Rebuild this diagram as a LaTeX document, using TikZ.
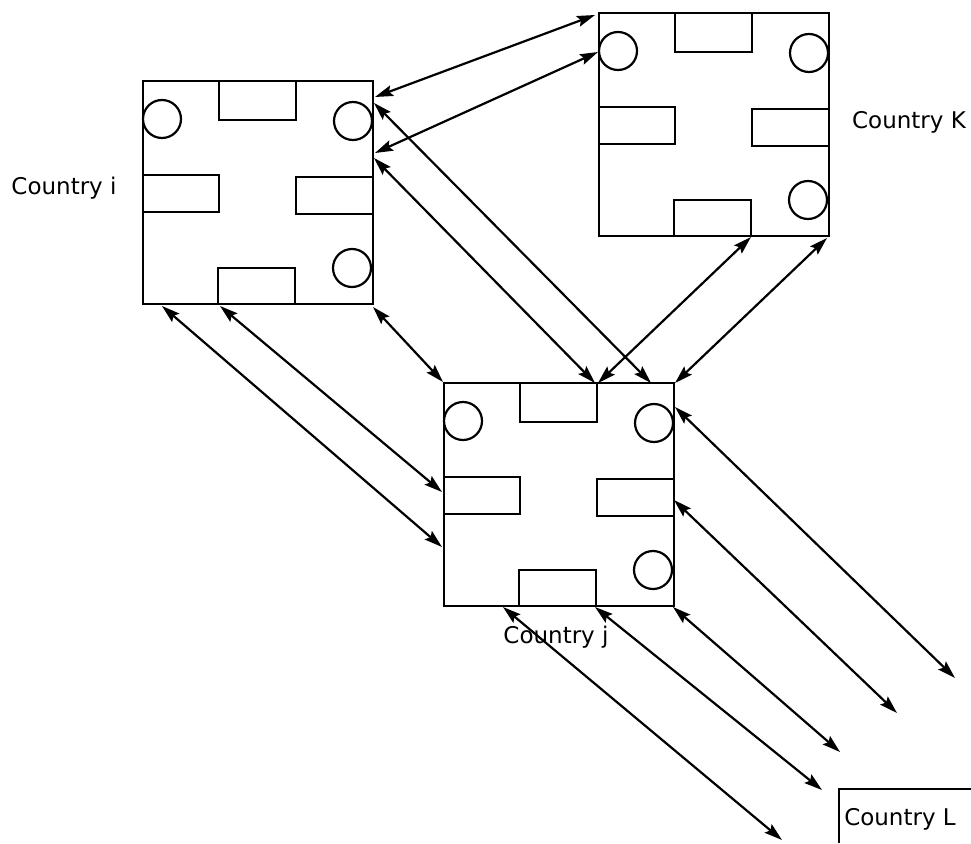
\documentclass[tikz,border=0pt]{standalone}
\usepackage{fontspec}
\setmainfont{DejaVu Sans}
\usetikzlibrary{arrows.meta}

% one country: outer square, four bars, three round stations
\newcommand{\countrybox}[1]{%
	\begin{scope}[shift={#1}]
		\draw (0,0) rectangle (230,223);
		\draw (76,0) rectangle (153,39);
		\draw (0,94) rectangle (76,131);
		\draw (153,96) rectangle (230,133);
		\draw (75,187) rectangle (152,223);
		\draw (19,38) circle (19pt);
		\draw (210,40) circle (19pt);
		\draw (209,187) circle (19pt);
	\end{scope}}

\begin{document}
\begin{tikzpicture}[x=1pt, y=-1pt, line width=2.2pt,
		link/.style={{Stealth[length=18pt,width=11pt,inset=3pt]}-{Stealth[length=18pt,width=11pt,inset=3pt]}},
		lbl/.style={font=\fontsize{23}{26}\selectfont}]
		\useasboundingbox (0,0) rectangle (971,843);

		\countrybox{(143,81)}
		\countrybox{(599,13)}
		\countrybox{(444,383)}
		\draw (839,843) |- (971,789);

		\node[lbl] (cti) at (64,188) {Country i};
		\node[lbl] (ctk) at (909,122) {Country K};
		\node[lbl] (ctj) at (556,637) {Country j};
		\node[lbl] (ctl) at (900,819) {Country L};

		% ends of the links
		\coordinate (ik1a) at (375,97);   \coordinate (ik1b) at (595,15);
		\coordinate (ik2a) at (375,153);  \coordinate (ik2b) at (598,52);
		\coordinate (ij1a) at (374,103);  \coordinate (ij1b) at (651,383);
		\coordinate (ij2a) at (374,158);  \coordinate (ij2b) at (595,383);
		\coordinate (ij3a) at (373,307);  \coordinate (ij3b) at (443,382);
		\coordinate (ij4a) at (162,306);  \coordinate (ij4b) at (442,547);
		\coordinate (ij5a) at (220,306);  \coordinate (ij5b) at (442,492);
		\coordinate (jk1a) at (598,383);  \coordinate (jk1b) at (751,237);
		\coordinate (jk2a) at (675,383);  \coordinate (jk2b) at (827,238);
		\coordinate (jl1a) at (675,407);  \coordinate (jl1b) at (955,678);
		\coordinate (jl2a) at (674,500);  \coordinate (jl2b) at (897,713);
		\coordinate (jl3a) at (673,607);  \coordinate (jl3b) at (840,752);
		\coordinate (jl4a) at (595,607);  \coordinate (jl4b) at (822,790);
		\coordinate (jl5a) at (503,607);  \coordinate (jl5b) at (782,840);

		\foreach \p in {ik1,ik2,ij1,ij2,ij3,ij4,ij5,jk1,jk2,jl1,jl2,jl3,jl4,jl5}
			\draw[link] (\p a) -- (\p b);
	\end{tikzpicture}
\end{document}
